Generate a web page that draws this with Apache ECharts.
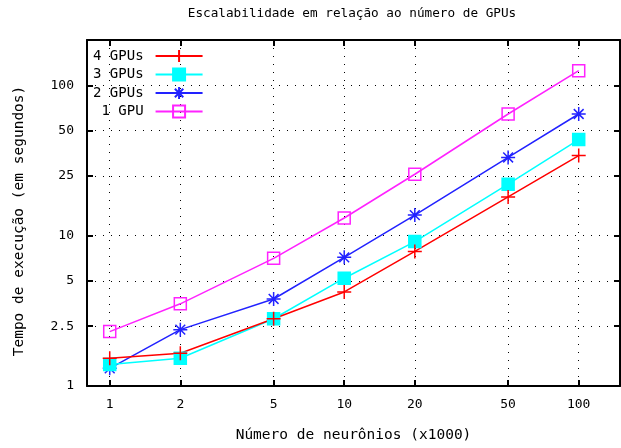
<!DOCTYPE html>
<html><head><meta charset="utf-8">
<script src="https://cdn.jsdelivr.net/npm/echarts@6/dist/echarts.min.js"></script>
<style>html,body{margin:0;padding:0;background:#fff}#c{width:621px;height:448px}</style>
</head><body><div id="c"></div>
<script>
const neurons = [1, 2, 5, 10, 20, 50, 100];
const xTicks = [1, 2, 5, 10, 20, 50, 100];
const yTicks = [1, 2.5, 5, 10, 25, 50, 100];
const seriesNames = ['4 GPUs', '3 GPUs', '2 GPUs', '1 GPU'];
const gpu4 = [1.53, 1.65, 2.8, 4.22, 7.85, 18.1, 34.1];
const gpu3 = [1.39, 1.53, 2.8, 5.21, 9.13, 22.0, 43.5];
const gpu2 = [1.31, 2.37, 3.79, 7.17, 13.7, 33.1, 64.4];
const gpu1 = [2.30, 3.52, 7.06, 13.1, 25.6, 64.4, 125];

const FONT = 'DejaVu Sans Mono';
const FS = 13;
const pair = arr => neurons.map((n, i) => [n, arr[i]]);

const chart = echarts.init(document.getElementById('c'), null, {renderer: 'canvas'});

const mkSeries = (name, data, color, symbol, size, fill) => ({
  name, type: 'line', data: pair(data), symbol, symbolSize: size,
  lineStyle: {color, width: 1.5},
  itemStyle: {color: fill, borderColor: color, borderWidth: 1.5},
  emphasis: {disabled: true}, animation: false, z: 3
});

const xAxisBase = {type: 'log', logBase: 10, min: 0.8, max: 150};
const yAxisBase = {type: 'log', logBase: 10, min: 1, max: 200};

chart.setOption({
  animation: false,
  backgroundColor: '#fff',
  title: {
    text: 'Escalabilidade em relação ao número de GPUs',
    left: 347, top: 2, textAlign: 'center',
    textStyle: {fontFamily: FONT, fontSize: 12.7, fontWeight: 'normal', color: '#000'}
  },
  grid: {left: 87, right: 1, top: 40, bottom: 60, containLabel: false},
  legend: {
    orient: 'vertical', left: 88, top: 44, align: 'right',
    itemWidth: 47, itemHeight: 15, itemGap: 4.5,
    data: seriesNames,
    textStyle: {fontFamily: FONT, fontSize: 14, color: '#000', width: 52, align: 'right', padding: [0, 7, 0, 0]}
  },
  xAxis: [
    Object.assign({}, xAxisBase, {
      position: 'bottom',
      name: 'Número de neurônios (x1000)', nameLocation: 'middle', nameGap: 42,
      nameTextStyle: {fontFamily: FONT, fontSize: 14.5, color: '#000'},
      axisLine: {show: true, onZero: false, lineStyle: {color: '#000', width: 2}},
      axisTick: {show: true, inside: true, length: 6, customValues: xTicks, lineStyle: {color: '#000', width: 2}},
      axisLabel: {show: true, customValues: xTicks, margin: 12, fontFamily: FONT, fontSize: FS, color: '#000', formatter: v => String(v)},
      splitLine: {show: true, lineStyle: {color: '#000', width: 1, type: [1, 7]}},
      minorTick: {show: false}, minorSplitLine: {show: false}
    }),
    Object.assign({}, xAxisBase, {
      position: 'top',
      axisLine: {show: true, onZero: false, lineStyle: {color: '#000', width: 2}},
      axisTick: {show: true, inside: true, length: 6, customValues: xTicks, lineStyle: {color: '#000', width: 2}},
      axisLabel: {show: false},
      splitLine: {show: false}
    })
  ],
  yAxis: [
    Object.assign({}, yAxisBase, {
      position: 'left',
      name: 'Tempo de execução (em segundos)', nameLocation: 'middle', nameGap: 60, nameRotate: 90,
      nameTextStyle: {fontFamily: FONT, fontSize: 14.5, color: '#000', padding: [0, 16, 0, 0]},
      axisLine: {show: true, onZero: false, lineStyle: {color: '#000', width: 2}},
      axisTick: {show: true, inside: true, length: 6, customValues: yTicks, lineStyle: {color: '#000', width: 2}},
      axisLabel: {show: true, customValues: yTicks, margin: 13, fontFamily: FONT, fontSize: FS, color: '#000', formatter: v => String(v)},
      splitLine: {show: true, lineStyle: {color: '#000', width: 1, type: [1, 7]}},
      minorTick: {show: false}, minorSplitLine: {show: false}
    }),
    Object.assign({}, yAxisBase, {
      position: 'right',
      axisLine: {show: true, onZero: false, lineStyle: {color: '#000', width: 2}},
      axisTick: {show: true, inside: true, length: 6, customValues: yTicks, lineStyle: {color: '#000', width: 2}},
      axisLabel: {show: false},
      splitLine: {show: false}
    })
  ],
  series: [
    mkSeries('1 GPU', gpu1, '#ff22ff', 'path://M0,0L10,0L10,10L0,10Z', 12, 'rgba(0,0,0,0)'),
    mkSeries('2 GPUs', gpu2, '#2222ff', 'path://M0,5L10,5M5,0L5,10M1.5,1.5L8.5,8.5M8.5,1.5L1.5,8.5', 14, '#2222ff'),
    mkSeries('3 GPUs', gpu3, '#00ffff', 'rect', 12, '#00ffff'),
    mkSeries('4 GPUs', gpu4, '#ff0000', 'path://M0,5L10,5M5,0L5,10', 14, '#ff0000')
  ]
});
</script>
</body></html>
